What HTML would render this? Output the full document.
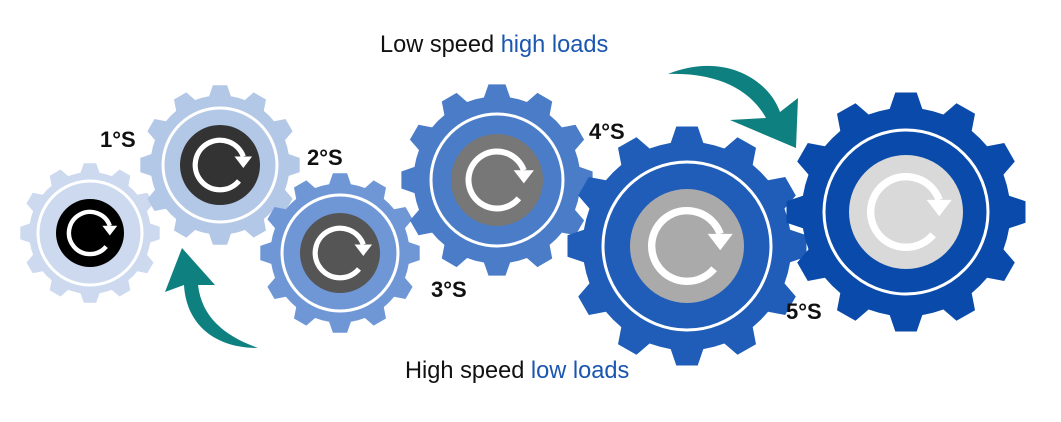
<!DOCTYPE html>
<html><head><meta charset="utf-8"><style>
html,body{margin:0;padding:0;background:#fff;}
svg{display:block}
text{font-family:"Liberation Sans",Arial,sans-serif;}
</style></head><body>
<svg id="s" width="1061" height="422" viewBox="0 0 1061 422" xmlns="http://www.w3.org/2000/svg">
<g id="gears"></g>
<path d="M258 348 C212 348 186 322 184 285 L165 292 L182 248 L215 285 L198 285 C202 318 225 336 258 348 Z" fill="#0f8080"/>
<path d="M668 74 C722 52 768 78 780 112 L798 98 L796 148 L730 120 L766 118 C752 92 720 72 668 74 Z" fill="#0f8080"/>
<g font-size="22" font-weight="bold" fill="#111">
<text x="100" y="147">1°S</text>
<text x="307" y="165">2°S</text>
<text x="431" y="297">3°S</text>
<text x="589" y="139">4°S</text>
<text x="786" y="319">5°S</text>
</g>
<text x="380" y="52" font-size="23.6" fill="#111">Low speed <tspan fill="#1a56b0">high loads</tspan></text>
<text x="405" y="378" font-size="23.6" fill="#111">High speed <tspan fill="#1a56b0">low loads</tspan></text>
</svg>
<script>
var g=document.getElementById('gears');
var defs=[
[90,233,70,'#ccd9ee',52,34,'#000',12],
[220,165,80,'#b3c7e6',57,40,'#333',12],
[340,253,80,'#6f97d6',58,40,'#555',12],
[497,180,96,'#4a7cc7',66,46,'#777',12],
[687,246,120,'#1f5db8',84,57,'#aaa',12],
[906,212,120,'#0a4aaa',82,57,'#d9d9d9',12]];
var html='';
defs.forEach(function(d){
 var cx=d[0],cy=d[1],R=d[2],n=d[7],r=R*0.87,p=[];
 for(var i=0;i<n;i++){
  var a=i*2*Math.PI/n, s=2*Math.PI/n;
  var pts=[[a-s*0.5,r],[a-s*0.3,r],[a-s*0.17,R],[a+s*0.17,R],[a+s*0.3,r]];
  pts.forEach(function(q){p.push((cx+q[1]*Math.cos(q[0])).toFixed(1)+','+(cy+q[1]*Math.sin(q[0])).toFixed(1));});
 }
 html+='<polygon points="'+p.join(' ')+'" fill="'+d[3]+'"/>';
 html+='<circle cx="'+cx+'" cy="'+cy+'" r="'+d[4]+'" fill="none" stroke="#fff" stroke-width="3"/>';
 html+='<circle cx="'+cx+'" cy="'+cy+'" r="'+d[5]+'" fill="'+d[6]+'"/>';
 var ar=d[5]*0.62,sw=d[5]*0.13;
 var a1=-20*Math.PI/180,a2=40*Math.PI/180;
 var x1=cx+ar*Math.cos(a1),y1=cy+ar*Math.sin(a1),x2=cx+ar*Math.cos(a2),y2=cy+ar*Math.sin(a2);
 html+='<path d="M'+x1+' '+y1+' A'+ar+' '+ar+' 0 1 0 '+x2+' '+y2+'" fill="none" stroke="#fff" stroke-width="'+sw+'"/>';
 var h=d[5]*0.22;
 html+='<polygon points="'+(x1-h)+','+(y1)+' '+(x1+h)+','+(y1)+' '+x1+','+(y1+h*1.3)+'" fill="#fff"/>';
});
g.innerHTML=html;
</script>
</body></html>
